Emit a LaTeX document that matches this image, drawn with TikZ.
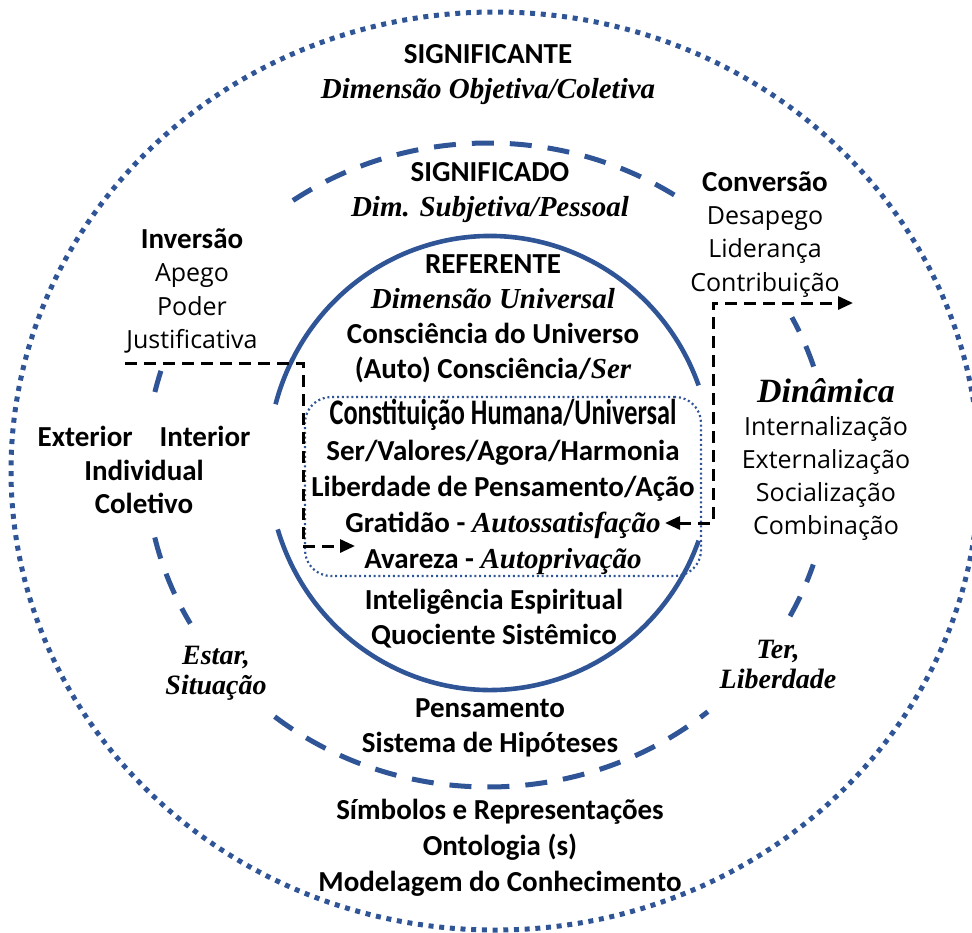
\documentclass[tikz,border=0pt]{standalone}
\usepackage{fontspec}
\setmainfont{Carlito}
\newfontfamily\scriptf{Liberation Serif}
\newfontfamily\handf{Open Sans}
\newfontfamily\narrowf{Carlito}[FakeStretch=0.73]
\usepackage{xcolor}
\usepackage{tikz}
\usetikzlibrary{arrows.meta,positioning}
\definecolor{ringblue}{RGB}{47,85,151}
\newcommand{\scr}[1]{{\scriptf\bfseries\itshape #1}}
\newcommand{\hand}[1]{{\handf\mdseries\fontsize{12.5}{12.5}\selectfont #1}}

\begin{document}
\begin{tikzpicture}[x=0.5pt, y=-0.5pt, >={Triangle[length=7.5pt,width=6.5pt]},
  txt/.style={align=center, inner sep=0pt, font=\fontsize{14.5}{17.5}\selectfont\bfseries},
  handtxt/.style={txt, font=\fontsize{14.5}{16.6}\selectfont\bfseries},
  outerring/.style={draw=ringblue, line width=2.5pt, dash pattern=on 2.5pt off 2.85pt},
  midring/.style={draw=ringblue, line width=2.5pt, dash pattern=on 11pt off 8pt},
  innerring/.style={draw=ringblue, line width=2.3pt},
  conbox/.style={txt, font=\fontsize{14.5}{18}\selectfont\bfseries, draw=ringblue, line width=1.1pt,
    dash pattern=on 1pt off 1.4pt, rounded corners=13pt, minimum width=198pt, minimum height=89.5pt},
  link/.style={black, line width=1.5pt, dash pattern=on 6pt off 3.5pt}]
\useasboundingbox (0,0) rectangle (972,932);

% rings
\draw[outerring] (495,471) ellipse [x radius=484, y radius=459];
\coordinate (mid) at (488,465);
\draw[midring] (mid) ++(-57:342 and 322) arc[start angle=-57, end angle=-127, x radius=342, y radius=322];
\draw[midring] (mid) ++(-163:342 and 322) arc[start angle=-163, end angle=-168, x radius=342, y radius=322];
\draw[midring] (mid) ++(-193:342 and 322) arc[start angle=-193, end angle=-209.5, x radius=342, y radius=322];
\draw[midring] (mid) ++(-231.4:342 and 322) arc[start angle=-231.4, end angle=-310, x radius=342, y radius=322];
\draw[midring] (mid) ++(-332:342 and 322) arc[start angle=-332, end angle=-342, x radius=342, y radius=322];
\draw[midring] (mid) ++(-17.8:342 and 322) arc[start angle=-17.8, end angle=-27.3, x radius=342, y radius=322];
\coordinate (core) at (490,463);
\draw[innerring] (core) ++(-20:222 and 227) arc[start angle=-20, end angle=-165, x radius=222, y radius=227];
\draw[innerring] (core) ++(-197:222 and 227) arc[start angle=-197, end angle=-340, x radius=222, y radius=227];

% texts
\node[txt] (signif) at (488,75) {SIGNIFICANTE\\\scr{Dimensão Objetiva/Coletiva}};
\node[txt] (signdo) at (490,193) {SIGNIFICADO\\\scr{Dim. Subjetiva/Pessoal}};
\node[txt] (refer) at (493,319) {REFERENTE\\\scr{Dimensão Universal}\\Consciência do Universo\\(Auto) Consciência/\scr{Ser}};
\node[conbox] (constit) at (503,486.5) {{\narrowf\fontsize{18}{18}\selectfont Constituição Humana/Universal}\\
  Ser/Valores/Agora/Harmonia\\Liberdade de Pensamento/Ação\\Gratidão - \scr{Autossatisfação}\\Avareza - \scr{Autoprivação}};
\node[txt] (intel) at (494,619) {Inteligência Espiritual\\Quociente Sistêmico};
\node[txt] (pensam) at (490,727.5) {Pensamento\\Sistema de Hipóteses};
\node[txt, font=\fontsize{14.5}{18}\selectfont\bfseries] (simbol) at (500,848) {Símbolos e Representações\\Ontologia (s)\\Modelagem do Conhecimento};
\node[handtxt] (invers) at (192,291) {Inversão\\\hand{Apego}\\\hand{Poder}\\\hand{Justificativa}};
\node[handtxt] (convers) at (765,234.5) {Conversão\\\hand{Desapego}\\\hand{Liderança}\\\hand{Contribuição}};
\node[handtxt] (dinam) at (826,459.5) {\scr{\fontsize{17}{17}\selectfont Dinâmica}\\\hand{Internalização}\\\hand{Externalização}\\\hand{Socialização}\\\hand{Combinação}};
\node[handtxt] (exter) at (144,470) {Exterior\hspace{13.5pt}Interior\\Individual\\Coletivo};
\node[txt, font=\fontsize{14}{15}\selectfont] (estar) at (216,673) {\scr{Estar,}\\\scr{Situação}};
\node[txt, font=\fontsize{14}{15}\selectfont] (ter) at (778,664) {\scr{Ter,}\\\scr{Liberdade}};

% connectors
\coordinate (invA) at (125,363);
\coordinate (invC) at (303,546);
\coordinate (invD) at (355,546);
\draw[link,->] (invA) -| (invC) -- (invD);
\coordinate (conA) at (665,523);
\coordinate (conB) at (713,523);
\coordinate (conD) at (853,303);
\draw[link,<->] (conA) -- (conB) |- (conD);
\end{tikzpicture}
\end{document}
